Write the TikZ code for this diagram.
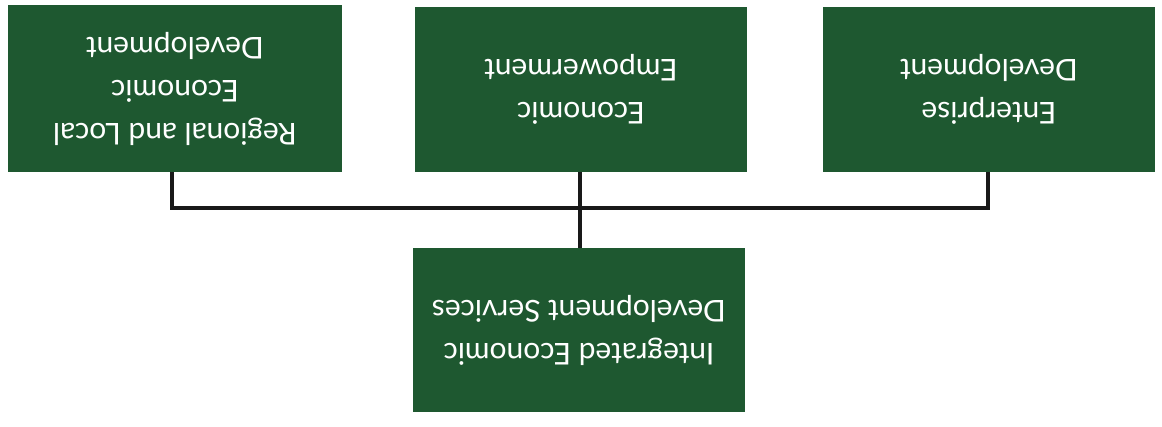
\documentclass[tikz,border=0pt]{standalone}
\usepackage{fontspec}
\setmainfont{Lato}
\definecolor{boxgreen}{RGB}{30,88,48}
\definecolor{linecol}{RGB}{25,25,25}
\begin{document}
\begin{tikzpicture}[x=1pt,y=-1pt,
  gbox/.style={fill=boxgreen, draw=none, text=white, align=center, inner sep=0pt,
    font=\fontsize{30}{43}\selectfont, rotate=180},
  conn/.style={draw=linecol, line width=3.5pt}]
\useasboundingbox (0,0) rectangle (1162,427);
\fill[white] (0,0) rectangle (1162,427);
% boxes
\node[gbox, minimum width=334pt, minimum height=167pt] (rl) at (175,88.5) {Regional and Local\\Economic\\Development};
\node[gbox, minimum width=332pt, minimum height=165pt] (ee) at (581,89.5) {Economic\\Empowerment};
\node[gbox, minimum width=332pt, minimum height=165pt] (ed) at (989,89.5) {Enterprise\\Development};
\node[gbox, minimum width=332pt, minimum height=164pt] (ie) at (579,330) {Integrated Economic\\Development Services};
% connectors
\coordinate (jl) at (172,208);
\coordinate (jr) at (988,208);
\coordinate (jm) at (580,208);
\draw[conn] (rl.north -| jl) -- (jl) -- (jr) -- (ed.north -| jr);
\draw[conn] (ee.north -| jm) -- (ie.south -| jm);
\end{tikzpicture}
\end{document}
